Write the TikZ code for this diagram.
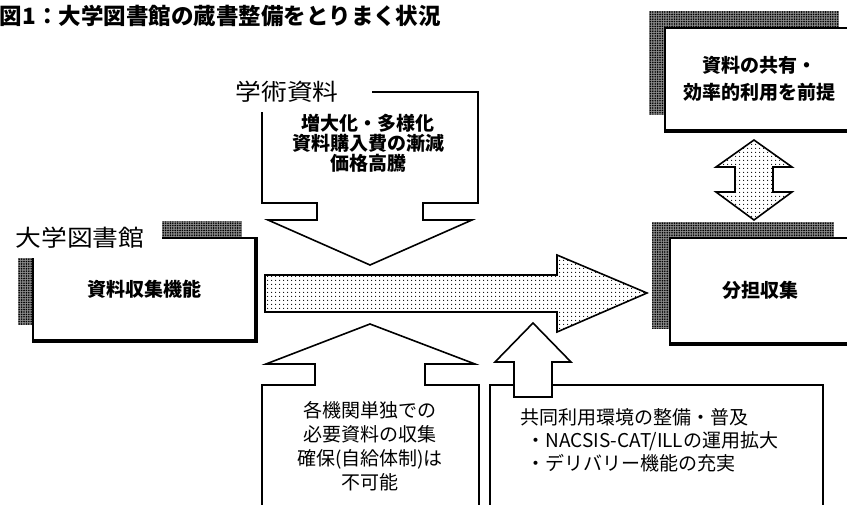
\documentclass[tikz,border=0pt]{standalone}
\usepackage{fontspec}
\setmainfont{Noto Sans CJK JP}
\newfontfamily\widejp[FakeStretch=1.12]{Noto Sans CJK JP}
\usetikzlibrary{patterns.meta,backgrounds}
\tikzset{
  darkdots/.style={preaction={fill=black!45},
    pattern={Dots[distance=2.4pt,radius=0.9pt]},pattern color=black},
  lightdots/.style={pattern={Dots[distance=4pt,radius=0.7pt]},pattern color=black},
  shadowbox/.style={draw,fill=white,inner sep=0pt,align=center,
    font=\bfseries\fontsize{19}{27}\selectfont},
  caption/.style={inner sep=0pt,font=\bfseries\fontsize{22.5}{24}\selectfont},
  tag/.style={inner sep=0pt,font=\widejp\fontsize{23}{23}\selectfont},
  blocktext/.style={inner sep=0pt,align=center},
}
\newcommand\castshadow[3]{%
  \fill[darkdots] ([shift={(#2,#3)}]#1.north west) rectangle ([shift={(#2,#3)}]#1.south east);}
\newcommand\heavyedge[1]{%
  \draw[line width=4.5pt] (#1.north east) -- (#1.south east) -- (#1.south west);}

\begin{document}
\begin{tikzpicture}[x=1pt,y=-1pt,line width=1.6pt]
\useasboundingbox (0,0) rectangle (847,504);
\node[caption,anchor=west] (title) at (-1,16) {図1：大学図書館の蔵書整備をとりまく状況};

\node[shadowbox,minimum width=222,minimum height=102] (collect) at (144,289) {資料収集機能};
\node[shadowbox,minimum width=188,minimum height=102] (premise) at (759,79)
  {資料の共有・\\効率的利用を前提};
\node[shadowbox,minimum width=180,minimum height=105] (share) at (760,290.5) {分担収集};
\begin{scope}[on background layer]
\castshadow{collect}{-14}{-16}
\castshadow{premise}{-15}{-16}
\castshadow{share}{-17}{-15}
\end{scope}
\heavyedge{collect}
\heavyedge{premise}
\heavyedge{share}
\node[tag,fill=white,inner xsep=18,inner ysep=9] (library) at (80,238) {大学図書館};

\node[tag] (material) at (287,92) {学術資料};
\draw
  (372,92) -- (478,92) -- (478,203) -- (423,203) -- (423,220) -- (472,220) --
  (370,265) --
  (268,220) -- (317,220) -- (317,203) -- (262,203) -- (262,112);
\node[blocktext,font=\bfseries\fontsize{19}{20}\selectfont] (pressure) at (368,143)
  {増大化・多様化\\資料購入費の漸減\\価格高騰};

\draw[lightdots]
  (265,275) -- (557,275) -- (557,255) --
  (647,293) --
  (557,332) -- (557,312) -- (265,312) -- cycle;
\draw[lightdots]
  (754,140) -- (792,167) -- (773,167) -- (773,192) -- (792,192) --
  (754,220) --
  (716,192) -- (735,192) -- (735,167) -- (716,167) -- cycle;

\draw
  (262,510) -- (262,385) -- (315,385) -- (315,364) -- (266,364) --
  (370,324) --
  (475,364) -- (425,364) -- (425,385) -- (479,385) -- (479,510);
\node[blocktext,font=\fontsize{19}{24}\selectfont] (alone) at (370,446)
  {各機関単独での\\必要資料の収集\\確保(自給体制)は\\不可能};

\draw
  (490,510) -- (490,385) -- (823,385) -- (823,510);
\draw[fill=white]
  (514,397) -- (514,362) -- (495,362) --
  (533,323) --
  (571,362) -- (552,362) -- (552,397) -- cycle;
\node[blocktext,align=left,anchor=west,font=\fontsize{19}{23}\selectfont] (network) at (520,440)
  {共同利用環境の整備・普及\\\hspace{6pt}・NACSIS-CAT/ILLの運用拡大\\\hspace{6pt}・デリバリー機能の充実};
\end{tikzpicture}
\end{document}
